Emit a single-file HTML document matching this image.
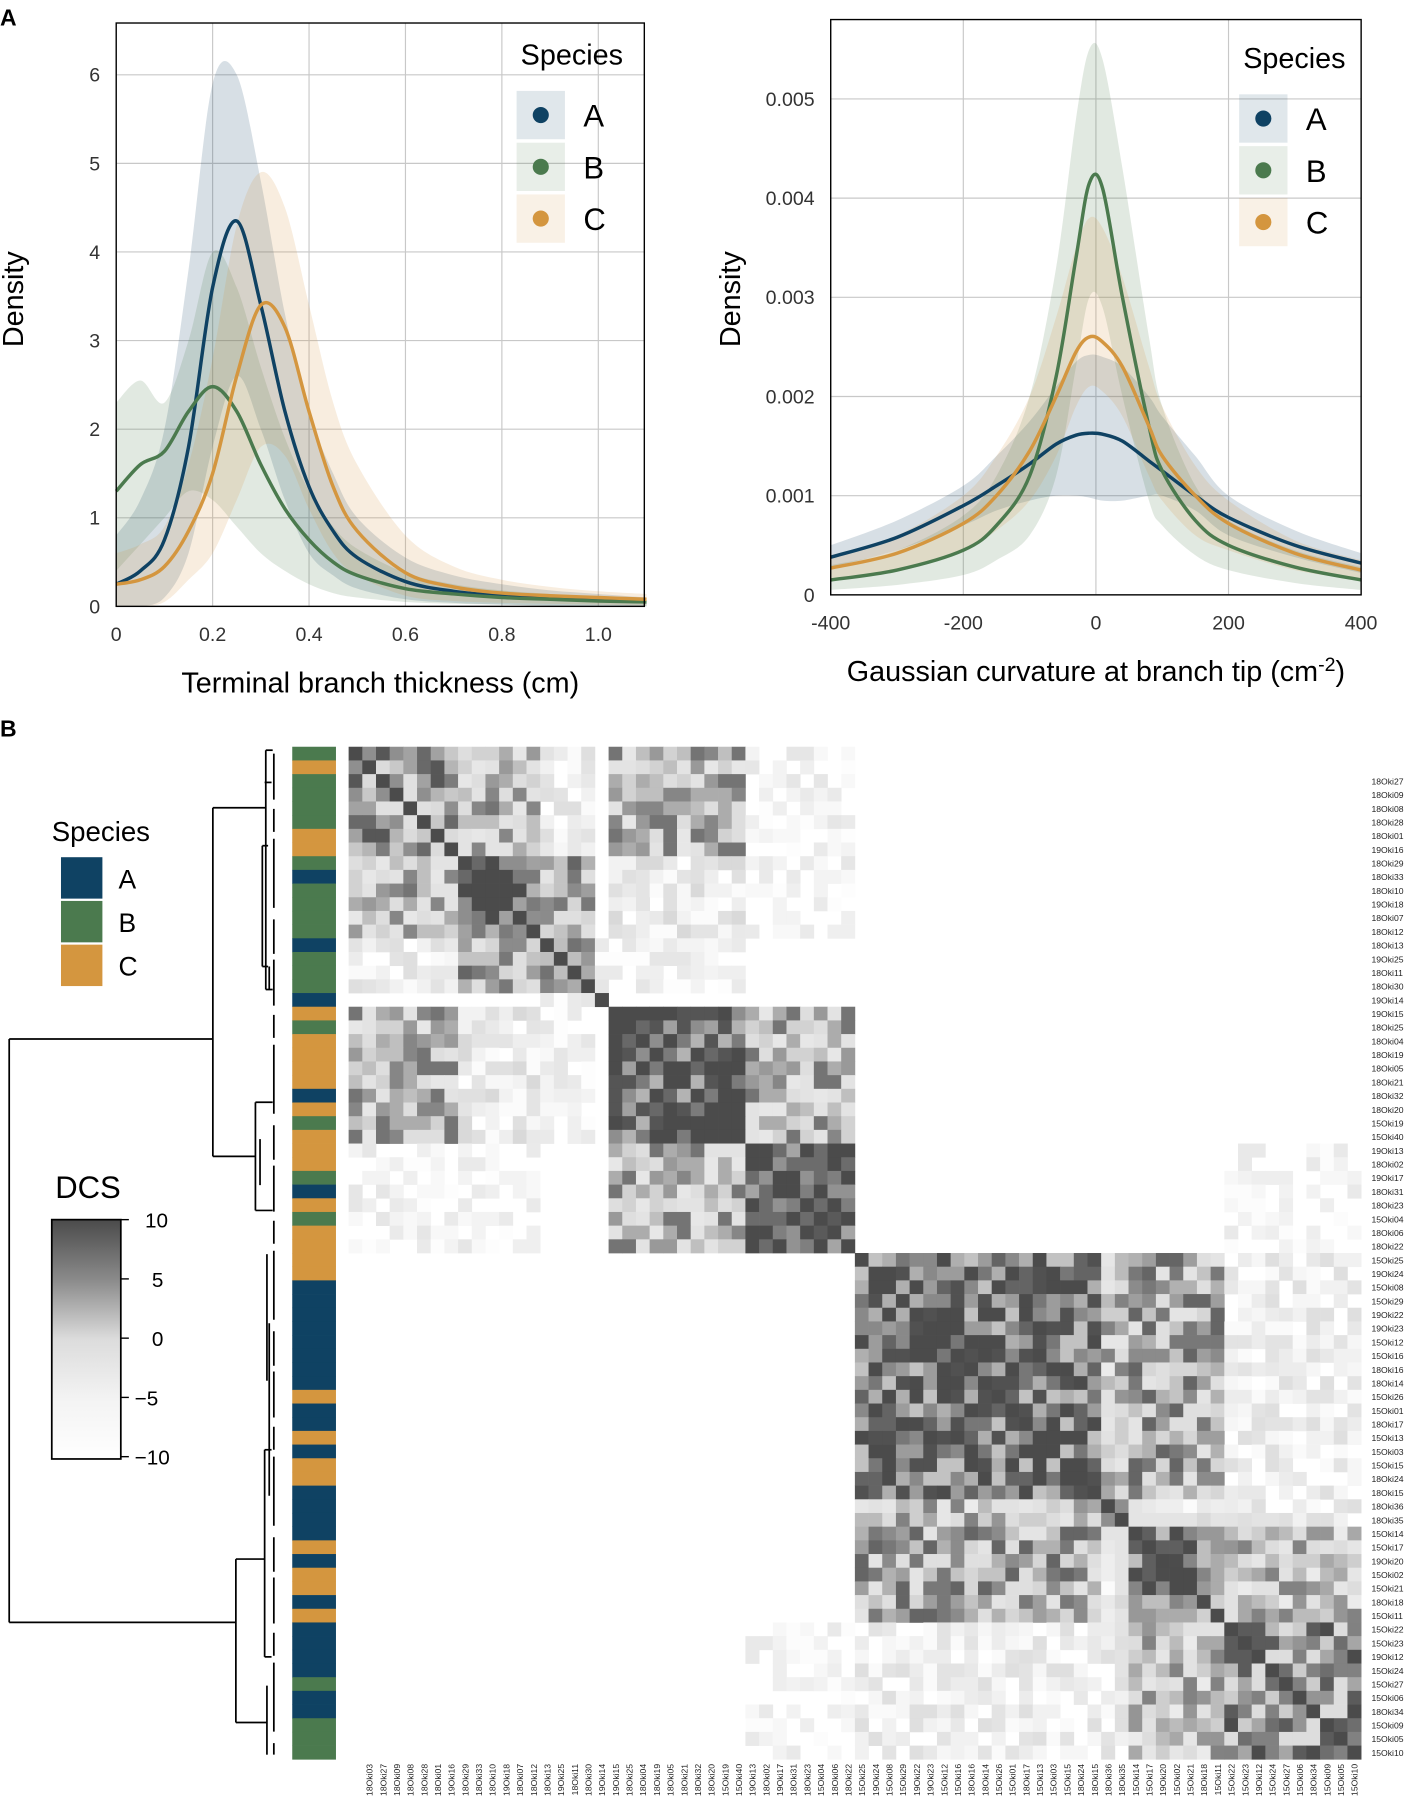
<!DOCTYPE html>
<html><head><meta charset="utf-8"><style>
html,body{margin:0;padding:0;background:#fff;}
svg{display:block;font-family:"Liberation Sans",sans-serif;}
</style></head><body>
<svg id="fig" width="1406" height="1803" viewBox="0 0 1222 1567" preserveAspectRatio="none" xmlns="http://www.w3.org/2000/svg">
<text x="0" y="22" font-size="20" font-weight="bold">A</text>
<text x="0" y="640" font-size="20" font-weight="bold">B</text>
<g id="p1"></g>
<g id="p2"></g>
<g id="hm"></g>
</svg>
<script>
// ---------- Panel A left data ----------
const x1Vals=[0,0.05,0.1,0.15,0.2,0.25,0.3,0.35,0.4,0.45,0.5,0.6,0.7,0.8,0.9,1.0,1.1];
const aMean1=[0.25,0.4,0.75,1.8,3.6,4.35,3.4,2.2,1.35,0.85,0.55,0.28,0.17,0.12,0.09,0.07,0.05];
const aUp1=[0.8,1.2,2.0,3.8,5.9,6.0,4.8,3.3,2.2,1.5,1.0,0.55,0.35,0.25,0.18,0.14,0.1];
const aLo1=[0,0,0.1,0.6,1.8,2.6,2.0,1.2,0.6,0.35,0.2,0.08,0.04,0.02,0.01,0.01,0];
const bMean1=[1.3,1.6,1.75,2.2,2.48,2.2,1.6,1.1,0.75,0.5,0.35,0.2,0.14,0.1,0.08,0.06,0.05];
const bUp1=[2.3,2.55,2.3,3.0,4.0,3.6,2.7,1.9,1.3,0.9,0.65,0.38,0.25,0.18,0.14,0.1,0.08];
const bLo1=[0.4,0.7,1.0,1.3,1.2,0.9,0.6,0.4,0.25,0.15,0.1,0.05,0.03,0.02,0.01,0.01,0];
const cMean1=[0.25,0.3,0.45,0.85,1.5,2.6,3.4,3.15,2.2,1.35,0.85,0.38,0.22,0.15,0.12,0.1,0.08];
const cUp1=[0.6,0.7,0.9,1.6,2.8,4.3,4.9,4.5,3.4,2.3,1.6,0.8,0.45,0.3,0.22,0.17,0.14];
const cLo1=[0,0,0.05,0.3,0.6,1.2,1.8,1.7,1.1,0.6,0.35,0.12,0.06,0.04,0.03,0.02,0.01];
const xTicks1=[0,0.2,0.4,0.6,0.8,1.0];
const xTickLabels1=["0","0.2","0.4","0.6","0.8","1.0"];
const yTicks1=[0,1,2,3,4,5,6];
// ---------- Panel A right data (x1e-3) ----------
const x2Vals=[-400,-300,-200,-150,-100,-60,-30,-10,10,40,80,100,150,200,300,400];
const aMean2=[0.38,0.58,0.9,1.1,1.32,1.52,1.61,1.63,1.62,1.55,1.35,1.25,1.0,0.78,0.5,0.32];
const aUp2=[0.5,0.75,1.1,1.4,1.75,2.1,2.35,2.42,2.4,2.3,2.0,1.8,1.4,1.0,0.65,0.42];
const aLo2=[0.28,0.45,0.7,0.85,0.95,1.0,1.0,0.98,0.95,0.95,1.0,1.0,0.85,0.6,0.38,0.22];
const bMean2=[0.15,0.25,0.45,0.7,1.2,2.2,3.4,4.15,4.1,3.0,1.7,1.25,0.75,0.5,0.28,0.15];
const bUp2=[0.3,0.45,0.8,1.2,2.0,3.3,4.8,5.5,5.4,4.3,2.6,1.9,1.1,0.75,0.45,0.28];
const bLo2=[0.05,0.1,0.2,0.35,0.6,1.2,2.3,3.0,2.9,2.0,0.95,0.7,0.4,0.25,0.12,0.05];
const cMean2=[0.27,0.42,0.72,1.0,1.45,2.0,2.45,2.6,2.55,2.3,1.7,1.4,1.0,0.72,0.42,0.25];
const cUp2=[0.4,0.6,1.0,1.4,2.0,2.8,3.5,3.8,3.7,3.2,2.3,1.9,1.3,0.95,0.55,0.35];
const cLo2=[0.15,0.25,0.45,0.65,0.95,1.4,1.9,2.1,2.05,1.8,1.2,0.95,0.6,0.45,0.25,0.15];
const xTicks2=[-400,-200,0,200,400];
const yTicks2=[0,1,2,3,4,5];
const yTickLabels2=["0","0.001","0.002","0.003","0.004","0.005"];
// ---------- Heatmap data ----------
const speciesRows=["B","C","B","B","B","B","C","C","B","A","B","B","B","B","A","B","B","B","A","C","B","C","C","C","C","A","C","B","C","C","C","B","A","C","B","C","C","C","C","A","A","A","A","A","A","A","A","C","A","A","C","A","C","C","A","A","A","A","C","A","C","C","A","C","A","A","A","A","B","A","A","B","B","B"];
const blockStarts=[0,8,14,18,19,29,37,55,57,64];
const blockValues=[
[4,2,-6,-10,2,-8,-10,-10,-10,-10],
[2,8,3,-10,-5,-8,-10,-10,-10,-10],
[-6,3,6,-8,-8,-10,-10,-10,-10,-10],
[-10,-10,-8,10,-10,-10,-10,-10,-10,-10],
[2,-5,-8,-10,8,2,-10,-10,-10,-10],
[-8,-8,-10,-10,2,9,-10,-10,-10,-9],
[-10,-10,-10,-10,-10,-10,7,1,3,-6],
[-10,-10,-10,-10,-10,-10,1,8,-5,-6],
[-10,-10,-10,-10,-10,-10,3,-5,6,1],
[-10,-10,-10,-10,-10,-9,-6,-6,1,5]];
const rowLabels=["18Oki27","18Oki09","18Oki08","18Oki28","18Oki01","19Oki16","18Oki29","18Oki33","18Oki10","19Oki18","18Oki07","18Oki12","18Oki13","19Oki25","18Oki11","18Oki30","19Oki14","19Oki15","18Oki25","18Oki04","18Oki19","18Oki05","18Oki21","18Oki32","18Oki20","15Oki19","15Oki40","19Oki13","18Oki02","19Oki17","18Oki31","18Oki23","15Oki04","18Oki06","18Oki22","15Oki25","19Oki24","15Oki08","15Oki29","19Oki22","19Oki23","15Oki12","15Oki16","18Oki16","18Oki14","15Oki26","15Oki01","18Oki17","15Oki13","15Oki03","15Oki15","18Oki24","18Oki15","18Oki36","18Oki35","15Oki14","15Oki17","19Oki20","15Oki02","15Oki21","18Oki18","15Oki11","15Oki22","15Oki23","19Oki12","15Oki24","15Oki27","15Oki06","18Oki34","15Oki09","15Oki05","15Oki10"];
const colLabels=["18Oki03"].concat(rowLabels);
const dcsTicks=[10,5,0,-5,-10];

const NS="http://www.w3.org/2000/svg";
const COL={A:"#0f4263",B:"#4b7a4e",C:"#d4963f"};
function mk(parent,tag,attrs,text){const e=document.createElementNS(NS,tag);for(const k in attrs)e.setAttribute(k,attrs[k]);if(text!==undefined)e.textContent=text;parent.appendChild(e);return e;}
function smooth(pts){let d="M"+pts[0][0]+","+pts[0][1];for(let i=0;i<pts.length-1;i++){const p0=pts[Math.max(0,i-1)],p1=pts[i],p2=pts[i+1],p3=pts[Math.min(pts.length-1,i+2)];const c1=[p1[0]+(p2[0]-p0[0])/6,p1[1]+(p2[1]-p0[1])/6],c2=[p2[0]-(p3[0]-p1[0])/6,p2[1]-(p3[1]-p1[1])/6];d+=" C"+c1[0]+","+c1[1]+" "+c2[0]+","+c2[1]+" "+p2[0]+","+p2[1];}return d;}
function smoothNoM(pts){return smooth(pts).replace(/^M[^C]*/,"");}

function densityPlot(g,cfg){
  const {L,R,T,B,xs,ys,xv,series,xt,xtl,yt,ytl,xlab,ylab,ylabX,legX,legY}=cfg;
  xt.forEach((v,i)=>{const gl=mk(g,"line",{x1:xs(v),x2:xs(v),y1:T,y2:B,stroke:"#c8c8c8","stroke-width":1});
    const t=mk(g,"text",{x:xs(v),y:B+30,"font-size":17,"text-anchor":"middle",fill:"#333"},xtl[i]);});
  yt.forEach((v,i)=>{const gl=mk(g,"line",{x1:L,x2:R,y1:ys(v),y2:ys(v),stroke:"#c8c8c8","stroke-width":1});
    const t=mk(g,"text",{x:L-14,y:ys(v)+6,"font-size":17,"text-anchor":"end",fill:"#333"},ytl[i]);});
  series.forEach(s=>{
    const up=xv.map((x,i)=>[xs(x),ys(s.up[i])]),lo=xv.map((x,i)=>[xs(x),ys(s.lo[i])]).reverse();
    const band=mk(g,"path",{d:smooth(up)+" L"+lo[0][0]+","+lo[0][1]+smoothNoM(lo)+"Z",fill:s.c,"fill-opacity":0.17,stroke:"none"});
    
  });
  series.forEach(s=>{
    const pts=xv.map((x,i)=>[xs(x),ys(s.m[i])]);
    const ln=mk(g,"path",{d:smooth(pts),fill:"none",stroke:s.c,"stroke-width":3});
    
  });
  const fr=mk(g,"rect",{x:L,y:T,width:R-L,height:B-T,fill:"none",stroke:"#000","stroke-width":1.2});
  
  const xl=mk(g,"text",{x:(L+R)/2,y:B+75,"font-size":25,"text-anchor":"middle"});xl.innerHTML=xlab;
  
  const yl=mk(g,"text",{x:ylabX,y:260,"font-size":25,"text-anchor":"middle",transform:"rotate(-90 "+ylabX+" 260)"},ylab);
  
  const lg=mk(g,"g",{});
  const lt=mk(lg,"text",{x:legX+60,y:legY+36,"font-size":25,"text-anchor":"middle"},"Species");
  
  series.forEach((s,i)=>{const cy=legY+80+i*45;
    const bg=mk(lg,"rect",{x:legX+12,y:cy-21,width:42,height:42,fill:s.c,"fill-opacity":0.13});
    const c=mk(lg,"circle",{cx:legX+33,cy:cy,r:7,fill:s.c});
    const t=mk(lg,"text",{x:legX+70,y:cy+10,"font-size":27},s.n);});
}
(function(){const L=101,R=560,T=20,B=527;
densityPlot(document.getElementById("p1"),{L,R,T,B,xs:v=>L+v*419,ys:v=>B-v*77,xv:x1Vals,
 series:[{n:"A",c:COL.A,m:aMean1,up:aUp1,lo:aLo1},{n:"B",c:COL.B,m:bMean1,up:bUp1,lo:bLo1},{n:"C",c:COL.C,m:cMean1,up:cUp1,lo:cLo1}],
 xt:xTicks1,xtl:xTickLabels1,yt:yTicks1,ytl:yTicks1.map(String),xlab:"Terminal branch thickness (cm)",ylab:"Density",ylabX:20,legX:437,legY:20});})();
(function(){const L=722,R=1183,T=17,B=517;
densityPlot(document.getElementById("p2"),{L,R,T,B,xs:v=>L+(v+400)*(R-L)/800,ys:v=>B-v*86.2,xv:x2Vals,
 series:[{n:"A",c:COL.A,m:aMean2,up:aUp2,lo:aLo2},{n:"B",c:COL.B,m:bMean2,up:bUp2,lo:bLo2},{n:"C",c:COL.C,m:cMean2,up:cUp2,lo:cLo2}],
 xt:xTicks2,xtl:xTicks2.map(String),yt:yTicks2,ytl:yTickLabels2,xlab:'Gaussian curvature at branch tip (cm<tspan dy="-9" font-size="17">-2</tspan><tspan dy="9">)</tspan>',ylab:"Density",ylabX:643,legX:1065,legY:23});})();

(function(){
const g=document.getElementById("hm");
const N=speciesRows.length,X0=303,Y0=649,cs=(1183-303)/N;
function blk(i){let b=0;for(let k=0;k<blockStarts.length;k++)if(i>=blockStarts[k])b=k;return b;}
function gray(v){v=Math.max(-10,Math.min(10,v));const t=(v+10)/20;const c=t<0.5?255-t*2*35:220-(t-0.5)*2*145;const h=Math.round(c).toString(16).padStart(2,"0");return "#"+h+h+h;}
function tex(a,b){let h=(a*73856093)^(b*19349663)^((a+b)*83492791);h=(h^(h>>>13))*1274126177;h=h^(h>>>16);return ((h>>>0)%9)-4;}
for(let i=0;i<N;i++)for(let j=0;j<N;j++){
  let v=blockValues[blk(i)][blk(j)];
  const a=Math.min(i,j),b=Math.max(i,j);
  if(i===j)v=10;else if(v>-10){v+=tex(a,b)*1.3;}
  if(v<=-9.5&&i!==j)continue;
  const r=mk(g,"rect",{x:X0+j*cs,y:Y0+i*cs,width:cs+0.3,height:cs+0.3,fill:gray(v)});
  
  
}
speciesRows.forEach((s,i)=>{const r=mk(g,"rect",{x:254,y:Y0+i*cs,width:38,height:cs+0.3,fill:COL[s]});
  
  });
rowLabels.forEach((l,k)=>{const t=mk(g,"text",{x:1192,y:Y0+(k+2.5)*cs+3,"font-size":7.5,fill:"#222"},l);
  
  });
colLabels.forEach((l,k)=>{const x=X0+(k+1.5)*cs+3,y=1533;const t=mk(g,"text",{x:x,y:y,"font-size":7.5,"text-anchor":"end",fill:"#222",transform:"rotate(-90 "+x+" "+y+")"},l);
  
  });
const dg=mk(g,"g",{stroke:"#000","stroke-width":1.5,fill:"none"});
const segs=[[8,903,8,1410],[8,903,185,903],[8,1410,205,1410],[185,702,185,1005],[185,702,231,702],[185,1005,222,1005],
[231,652,231,860],[231,652,237,652],[231,860,237,860],[228,735,228,840],[228,735,233,735],[228,840,233,840],
[222,958,222,1052],[222,958,237,958],[222,1052,237,1052],[226,990,226,1030],
[205,1355,205,1497],[205,1355,230,1355],[205,1497,232,1497],[230,1260,230,1440],[230,1260,236,1260],[230,1440,236,1440],
[232,1465,232,1525],[234,1150,234,1300],[232,1090,232,1200],[234,840,234,860],[230,680,236,680]];
segs.forEach(s=>{const l=mk(dg,"line",{x1:s[0],y1:s[1],x2:s[2],y2:s[3]});});
const leaf=mk(dg,"line",{x1:238,y1:655,x2:238,y2:1525,"stroke-dasharray":"40 8 20 6 60 10 30 5"});
const lg=mk(g,"g",{});
const st=mk(lg,"text",{x:45,y:731,"font-size":24},"Species");
["A","B","C"].forEach((s,i)=>{const r=mk(lg,"rect",{x:53,y:745+i*38,width:36,height:36,fill:COL[s]});
  const t=mk(lg,"text",{x:103,y:772+i*38,"font-size":23},s);});
const defs=mk(g,"defs",{});const gr=mk(defs,"linearGradient",{id:"dcsg",x1:0,y1:0,x2:0,y2:1});
[[0,"#4b4b4b"],[0.25,"#8a8a8a"],[0.5,"#dcdcdc"],[0.75,"#f3f3f3"],[1,"#ffffff"]].forEach(p=>mk(gr,"stop",{offset:p[0],"stop-color":p[1]}));
const cb=mk(g,"g",{});
const ct=mk(cb,"text",{x:48,y:1041,"font-size":27},"DCS");
const rr=mk(cb,"rect",{x:45,y:1060,width:60,height:208,fill:"url(#dcsg)",stroke:"#000","stroke-width":1.5});
const cY=v=>1163-v*10.3;
dcsTicks.forEach(v=>{const tk=mk(cb,"line",{x1:105,x2:112,y1:cY(v),y2:cY(v),stroke:"#000","stroke-width":1.2});
  const t=mk(cb,"text",{x:v<0?117:(v===0?132:(v===5?132:126)),y:cY(v)+7,"font-size":18},v<0?"\u2212"+(-v):String(v));});
})();
</script>
</body></html>
